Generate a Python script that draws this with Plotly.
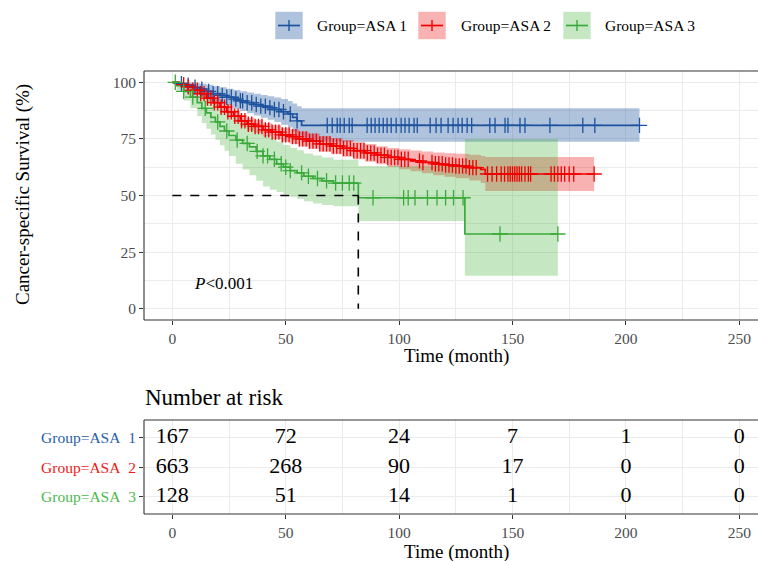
import numpy as np
import plotly.graph_objects as go

FONT = "Liberation Serif"
W, H = 758, 561

# ---------------- data ----------------
group_names = ["Group=ASA 1", "Group=ASA 2", "Group=ASA 3"]

asa1_time = [0, 3, 6, 9, 12, 15, 18, 21, 24, 27, 30, 33, 36, 39, 42, 45, 48, 51, 53, 55, 57]
asa1_surv = [100, 99.4, 98.7, 97.8, 97, 96, 95, 94.2, 93.4, 92.6, 91.8, 91, 90.2, 89.5, 88.8, 88, 87, 86, 84.5, 83, 81]
asa1_upper = [100, 100, 100, 99.8, 99.4, 98.9, 98.3, 97.8, 97.2, 96.6, 96, 95.5, 94.9, 94.4, 93.9, 93.3, 92.6, 91.8, 90.6, 89.4, 88.5]
asa1_lower = [100, 98.2, 96.9, 95.6, 94.4, 93, 91.6, 90.5, 89.4, 88.3, 87.3, 86.3, 85.3, 84.4, 83.5, 82.5, 81.3, 80, 78.2, 76.4, 73.8]
asa1_censor = [4, 7, 10, 13, 16, 18, 20, 22, 24, 26, 28, 30, 31, 33, 35, 37, 39, 41, 43, 45, 47, 49, 52, 55,
               68.3, 70.5, 72.7, 74, 75.8, 78, 79.3, 85.9, 87.7, 89.4, 91.2, 93, 94.7, 96.5, 98.7, 100.9,
               102.6, 104.4, 106.6, 108, 113.7, 116.3, 118.5, 121.6, 123.8, 126, 127.8, 130, 132,
               140, 142.3, 146.7, 148, 153.3, 155.5, 166.5, 181, 186.3, 206]
asa1_end = 206

asa2_time = [0, 3, 6, 9, 12, 15, 18, 21, 24, 27, 30, 33, 36, 40, 44, 48, 52, 56, 60, 65, 70, 75, 80, 85, 90,
             95, 100, 105, 110, 115, 120, 125, 131, 136, 138]
asa2_surv = [100, 99, 98, 96.5, 95, 93, 91, 89, 87, 85, 83, 81.5, 80.5, 79, 78, 76.8, 76, 75, 74, 72.8, 71.8,
             70.8, 69.8, 68.8, 67.8, 66.8, 66, 65.3, 64.6, 64, 63.5, 63, 62.3, 61.5, 59.5]
asa2_upper = [100, 99.6, 98.9, 97.7, 96.5, 94.8, 93, 91.2, 89.4, 87.5, 85.6, 84.2, 83.3, 81.9, 81, 79.9, 79.2,
              78.3, 77.4, 76.3, 75.4, 74.5, 73.6, 72.7, 71.8, 71, 70.4, 69.9, 69.4, 69, 68.7, 68.4, 68, 67.5, 67]
asa2_lower = [100, 98.4, 97.1, 95.3, 93.5, 91.2, 89, 86.8, 84.6, 82.5, 80.4, 78.8, 77.7, 76.1, 75, 73.7, 72.8,
              71.7, 70.6, 69.3, 68.2, 67.1, 66, 64.9, 63.8, 62.6, 61.6, 60.7, 59.8, 59, 58.3, 57.6, 56.6, 55.5, 52]
asa2_censor = [5, 7, 9, 11, 12.5, 14, 15.5, 17, 18.5, 20, 21.5, 23, 24.5, 26, 27.5, 29, 30.5, 32, 33.5, 35,
               36.5, 38, 39.5, 41, 42.5, 44, 45.5, 47, 48.5, 50, 51.5, 53, 54.5, 56, 57.5, 59, 60.5, 62, 63.5,
               65, 66.5, 68, 69.5, 71, 72.5, 74, 75.5, 77, 78.5, 80, 81.5, 83, 84.5, 86, 87.5, 89, 90.5, 92,
               93.5, 95, 96.5, 98, 99.5, 101, 102.5, 104, 109, 110.5, 114.5, 116, 117.5, 119, 120.5, 122,
               123.5, 125, 126.5, 128, 129.5, 131, 132.5, 134, 139, 141, 143, 145, 146.5, 148, 149, 150, 151,
               152, 153, 154, 155.5, 157, 158, 167, 168.5, 170, 171.5, 173, 175, 177, 186]
asa2_end = 186

asa3_time = [0, 2, 5, 8, 11, 13, 15, 17, 19, 21, 23, 25, 28, 31, 34, 37, 40, 43, 46, 49, 52, 55, 58, 62, 66,
             71, 82, 129]
asa3_surv = [100, 98.5, 96, 93.5, 91, 88.5, 86.5, 84.5, 82.5, 80.5, 78.5, 76.5, 74.5, 73, 71.5, 69.5, 67.5,
             66, 64, 62.5, 61, 60, 58.5, 57.5, 56.5, 55.5, 49, 33]
asa3_upper = [100, 100, 99.5, 98, 96.5, 94.8, 93.2, 91.6, 90, 88.3, 86.6, 84.8, 83.1, 81.8, 80.4, 78.6, 76.8,
              75.5, 73.7, 72.3, 71, 70, 68.6, 67.7, 66.8, 65.8, 63, 75]
asa3_lower = [100, 96.5, 92, 88.5, 85, 82, 79.5, 77, 74.6, 72.2, 69.8, 67.5, 64, 61.5, 59, 56.5, 54, 52.5,
              51.5, 50.5, 49.5, 48.5, 47.5, 46.5, 45.8, 45.2, 38.7, 14.6]
asa3_censor = [1.3, 5, 9, 14.5, 20, 24, 28.6, 33, 37.4, 40, 42, 45, 48, 50, 52, 57, 60, 64, 68, 72, 75, 78,
               80, 88.5, 102, 104, 107, 112.5, 116.7, 120.5, 124, 128.2, 144.5, 170]
asa3_end = 170

median_time = 82
median_surv = 50

risk_times = [0, 50, 100, 150, 200, 250]
risk_asa1 = [167, 72, 24, 7, 1, 0]
risk_asa2 = [663, 268, 90, 17, 0, 0]
risk_asa3 = [128, 51, 14, 1, 0, 0]

x_ticks = [0, 50, 100, 150, 200, 250]
y_ticks = [0, 25, 50, 75, 100]

# ---------------- styles ----------------
line_colors = ["#1D539E", "#F00000", "#3AAA3A"]
fill_colors = ["rgba(29,83,158,0.35)", "rgba(235,0,0,0.30)", "rgba(62,178,55,0.30)"]
label_colors = ["#2A5EA8", "#F01818", "#4DB84D"]

groups = [
    (asa1_time, asa1_surv, asa1_upper, asa1_lower, asa1_censor, asa1_end),
    (asa2_time, asa2_surv, asa2_upper, asa2_lower, asa2_censor, asa2_end),
    (asa3_time, asa3_surv, asa3_upper, asa3_lower, asa3_censor, asa3_end),
]


def extend(t, v, end):
    return list(t) + [end], list(v) + [v[-1]]


def step_at(t, v, ct):
    idx = np.searchsorted(np.asarray(t), np.asarray(ct), side="right") - 1
    return [v[i] for i in idx]


fig = go.Figure()

# confidence bands
for i, (t, s, up, lo, cens, end) in enumerate(groups):
    tx, uy = extend(t, up, end)
    _, ly = extend(t, lo, end)
    fig.add_trace(go.Scatter(x=tx, y=uy, mode="lines", line=dict(width=0, shape="hv"),
                             showlegend=False, hoverinfo="skip", xaxis="x", yaxis="y"))
    fig.add_trace(go.Scatter(x=tx, y=ly, mode="lines", line=dict(width=0, shape="hv"),
                             fill="tonexty", fillcolor=fill_colors[i],
                             showlegend=False, hoverinfo="skip", xaxis="x", yaxis="y"))

# step lines
for i, (t, s, up, lo, cens, end) in enumerate(groups):
    tx, sy = extend(t, s, end)
    fig.add_trace(go.Scatter(x=tx, y=sy, mode="lines", name=group_names[i],
                             line=dict(color=line_colors[i], width=1.7, shape="hv"),
                             showlegend=False, hoverinfo="skip", xaxis="x", yaxis="y"))

# censor marks
for i, (t, s, up, lo, cens, end) in enumerate(groups):
    fig.add_trace(go.Scatter(x=cens, y=step_at(t, s, cens), mode="markers",
                             marker=dict(symbol="cross-thin", size=11,
                                         line=dict(color=line_colors[i], width=1.3)),
                             showlegend=False, hoverinfo="skip", xaxis="x", yaxis="y"))

# median dashed lines
fig.add_trace(go.Scatter(x=[0, median_time], y=[median_surv, median_surv], mode="lines",
                         line=dict(color="black", width=1.6, dash="dash"),
                         showlegend=False, hoverinfo="skip", xaxis="x", yaxis="y"))
fig.add_trace(go.Scatter(x=[median_time, median_time], y=[median_surv, 0], mode="lines",
                         line=dict(color="black", width=1.6, dash="dash"),
                         showlegend=False, hoverinfo="skip", xaxis="x", yaxis="y"))

# risk table
for row, vals in zip([3, 2, 1], [risk_asa1, risk_asa2, risk_asa3]):
    fig.add_trace(go.Scatter(x=risk_times, y=[row] * len(risk_times), mode="text",
                             text=[str(v) for v in vals],
                             textfont=dict(family=FONT, size=22, color="black"),
                             showlegend=False, hoverinfo="skip", xaxis="x2", yaxis="y2"))

# ---------------- layout ----------------
def px_y(p):
    return 1 - p / H


grid = "#EBEBEB"
axcol = "#333333"
tickfont = dict(family=FONT, size=15.5, color="#4D4D4D")
# the panels continue past the right edge of the picture: the figure is a bit
# wider than the window, which crops it
W_FIG = W + 12
x_range = [-12.5, (W_FIG - 172) / 2.269]


def fx(p):
    return p / W_FIG


common_x = dict(range=x_range, tickvals=x_ticks, ticks="outside", ticklen=4, tickcolor=axcol,
                tickwidth=1, tickfont=tickfont, showgrid=True, gridcolor=grid, gridwidth=1.2,
                minor=dict(tickvals=[25, 75, 125, 175, 225], showgrid=True, gridcolor=grid, gridwidth=0.8),
                showline=False, zeroline=False, domain=[fx(144), 1.0])

fig.update_layout(
    width=W_FIG, height=H, autosize=False,
    margin=dict(l=0, r=0, t=0, b=0, autoexpand=False),
    paper_bgcolor="white", plot_bgcolor="white",
    font=dict(family=FONT, color="black"),
    showlegend=False, hovermode=False,
    xaxis=dict(anchor="y", **common_x),
    yaxis=dict(anchor="x", domain=[px_y(320), px_y(71)], range=[-5, 105], tickvals=y_ticks,
               ticks="outside", ticklen=4, tickcolor=axcol, tickwidth=1, tickfont=tickfont,
               showgrid=True, gridcolor=grid, gridwidth=1.2,
               minor=dict(tickvals=[12.5, 37.5, 62.5, 87.5], showgrid=True, gridcolor=grid, gridwidth=0.8),
               showline=False, zeroline=False),
    xaxis2=dict(anchor="y2", **common_x),
    yaxis2=dict(anchor="x2", domain=[px_y(514), px_y(420)], range=[0.42, 3.61],
                tickvals=[3, 2, 1],
                ticktext=[f"<span style='color:{label_colors[k]}'>{group_names[k].replace(' ', chr(160) + ' ')}</span>"
                          for k in range(3)],
                ticks="outside", ticklen=4, tickcolor=axcol, tickwidth=1,
                tickfont=dict(family=FONT, size=15.5),
                showgrid=True, gridcolor=grid, gridwidth=1.2,
                showline=False, zeroline=False),
)


def ann(text, x, y, size, xanchor="center", textangle=0, xref="paper", yref="paper"):
    return dict(text=text, x=x, y=y, xref=xref, yref=yref, xanchor=xanchor, yanchor="middle",
                textangle=textangle, showarrow=False, font=dict(family=FONT, size=size, color="black"))


annotations = [
    ann("Cancer-specific Survival (%)", fx(23), px_y(195), 19, textangle=-90),
    ann("Time (month)", fx(456), px_y(356), 19),
    ann("Number at risk", fx(143), px_y(397), 23, xanchor="left"),
    ann("Time (month)", fx(456), px_y(552), 19),
    ann("<i>P</i>&lt;0.001", 8.5, 11, 17, xanchor="left", xref="x", yref="y"),
]

shapes = []
# panel frames (left, top, bottom; right edge is outside the picture)
for top, bottom in [(71, 320), (420, 514)]:
    for (xa, ya, xb, yb) in [(144, top, 144, bottom), (144, top, W_FIG, top), (144, bottom, W_FIG, bottom)]:
        shapes.append(dict(type="line", xref="paper", yref="paper",
                           x0=fx(xa), y0=px_y(ya), x1=fx(xb), y1=px_y(yb),
                           line=dict(color=axcol, width=1.1)))

# custom legend (box key + cross glyph)
legend_box_left = [275, 418, 563]
legend_text_left = [315, 459, 603]
for k in range(3):
    x0 = legend_box_left[k]
    shapes.append(dict(type="rect", xref="paper", yref="paper",
                       x0=fx(x0), x1=fx(x0 + 28), y0=px_y(39.5), y1=px_y(11.5),
                       fillcolor=fill_colors[k], line=dict(width=1, color="rgba(255,255,255,0.6)")))
    shapes.append(dict(type="line", xref="paper", yref="paper",
                       x0=fx(x0 + 3), x1=fx(x0 + 25), y0=px_y(25.5), y1=px_y(25.5),
                       line=dict(color=line_colors[k], width=1.7)))
    shapes.append(dict(type="line", xref="paper", yref="paper",
                       x0=fx(x0 + 14), x1=fx(x0 + 14), y0=px_y(20), y1=px_y(31),
                       line=dict(color=line_colors[k], width=1.4)))
    annotations.append(ann(group_names[k], fx(legend_text_left[k]), px_y(25.5), 15.5, xanchor="left"))

fig.update_layout(annotations=annotations, shapes=shapes)

fig.write_html("out.html", config={"displayModeBar": False, "responsive": False},
               post_script="document.body.style.margin='0';document.body.style.padding='0';"
                           "document.body.style.overflow='hidden';"
                           "document.documentElement.style.overflow='hidden';")
